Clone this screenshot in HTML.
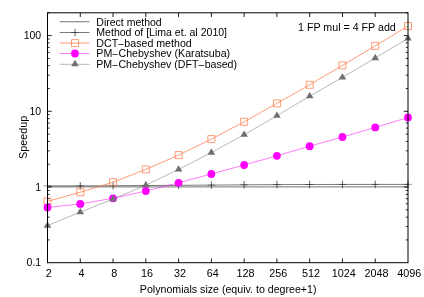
<!DOCTYPE html>
<html><head><meta charset="utf-8"><title>Speedup</title><style>html,body{margin:0;padding:0;background:#fff;overflow:hidden}</style></head><body>
<svg width="424" height="297" viewBox="0 0 424 297" style="display:block;will-change:transform;font-family:'Liberation Sans',sans-serif;font-size:10.5px" fill="#000">
<rect width="424" height="297" fill="#fff"/>
<path d="M80.27 262.7v-4.2 M80.27 12.8v4.2 M113.05 262.7v-4.2 M113.05 12.8v4.2 M145.82 262.7v-4.2 M145.82 12.8v4.2 M178.59 262.7v-4.2 M178.59 12.8v4.2 M211.36 262.7v-4.2 M211.36 12.8v4.2 M244.14 262.7v-4.2 M244.14 12.8v4.2 M276.91 262.7v-4.2 M276.91 12.8v4.2 M309.68 262.7v-4.2 M309.68 12.8v4.2 M342.45 262.7v-4.2 M342.45 12.8v4.2 M375.23 262.7v-4.2 M375.23 12.8v4.2 M47.5 187.00h4.2 M408.0 187.00h-4.2 M47.5 111.29h4.2 M408.0 111.29h-4.2 M47.5 35.59h4.2 M408.0 35.59h-4.2" stroke="#000" stroke-width="0.9" fill="none"/>
<path d="M47.5 239.91h2.2 M408.0 239.91h-2.2 M47.5 226.58h2.2 M408.0 226.58h-2.2 M47.5 217.12h2.2 M408.0 217.12h-2.2 M47.5 209.79h2.2 M408.0 209.79h-2.2 M47.5 203.79h2.2 M408.0 203.79h-2.2 M47.5 198.72h2.2 M408.0 198.72h-2.2 M47.5 194.33h2.2 M408.0 194.33h-2.2 M47.5 190.46h2.2 M408.0 190.46h-2.2 M47.5 164.21h2.2 M408.0 164.21h-2.2 M47.5 150.88h2.2 M408.0 150.88h-2.2 M47.5 141.42h2.2 M408.0 141.42h-2.2 M47.5 134.08h2.2 M408.0 134.08h-2.2 M47.5 128.09h2.2 M408.0 128.09h-2.2 M47.5 123.02h2.2 M408.0 123.02h-2.2 M47.5 118.63h2.2 M408.0 118.63h-2.2 M47.5 114.76h2.2 M408.0 114.76h-2.2 M47.5 88.50h2.2 M408.0 88.50h-2.2 M47.5 75.17h2.2 M408.0 75.17h-2.2 M47.5 65.71h2.2 M408.0 65.71h-2.2 M47.5 58.38h2.2 M408.0 58.38h-2.2 M47.5 52.38h2.2 M408.0 52.38h-2.2 M47.5 47.32h2.2 M408.0 47.32h-2.2 M47.5 42.93h2.2 M408.0 42.93h-2.2 M47.5 39.05h2.2 M408.0 39.05h-2.2 M47.5 12.80h2.2 M408.0 12.80h-2.2" stroke="#000" stroke-width="0.85" fill="none"/>
<polyline points="47.50,186.90 80.27,186.90 113.05,186.90 145.82,186.90 178.59,186.90 211.36,186.90 244.14,186.90 276.91,186.90 309.68,186.90 342.45,186.90 375.23,186.90 408.00,186.90" stroke="#000" stroke-width="0.55" fill="none"/>
<path d="M59.7 21.75H89.5" stroke="#000" stroke-width="0.55"/>
<polyline points="47.50,185.90 80.27,185.85 113.05,185.70 145.82,185.50 178.59,185.30 211.36,185.10 244.14,184.80 276.91,184.60 309.68,184.50 342.45,184.45 375.23,184.40 408.00,184.40" stroke="#000" stroke-width="0.52" fill="none"/>
<path d="M59.7 32.5H89.5" stroke="#000" stroke-width="0.52"/>
<path d="M43.70 185.90h7.6 M76.47 185.85h7.6 M109.25 185.70h7.6 M142.02 185.50h7.6 M174.79 185.30h7.6 M207.56 185.10h7.6 M240.34 184.80h7.6 M273.11 184.60h7.6 M305.88 184.50h7.6 M338.65 184.45h7.6 M371.43 184.40h7.6 M404.20 184.40h7.6 M71.20 32.50h7.6" stroke="#000" stroke-width="0.4" fill="none"/>
<path d="M47.50 182.10v7.6 M80.27 182.05v7.6 M113.05 181.90v7.6 M145.82 181.70v7.6 M178.59 181.50v7.6 M211.36 181.30v7.6 M244.14 181.00v7.6 M276.91 180.80v7.6 M309.68 180.70v7.6 M342.45 180.65v7.6 M375.23 180.60v7.6 M408.00 180.60v7.6 M75.00 28.70v7.6" stroke="#000" stroke-width="0.62" fill="none"/>
<polyline points="47.50,201.40 80.27,192.20 113.05,182.20 145.82,169.40 178.59,155.10 211.36,139.10 244.14,121.80 276.91,103.40 309.68,84.80 342.45,65.40 375.23,45.90 408.00,26.10" stroke="#ff7f50" stroke-width="0.78" fill="none"/>
<path d="M59.7 43.05H89.5" stroke="#ff7f50" stroke-width="0.78"/>
<path d="M44.00 197.90h7.0v7.0h-7.0z M76.77 188.70h7.0v7.0h-7.0z M109.55 178.70h7.0v7.0h-7.0z M142.32 165.90h7.0v7.0h-7.0z M175.09 151.60h7.0v7.0h-7.0z M207.86 135.60h7.0v7.0h-7.0z M240.64 118.30h7.0v7.0h-7.0z M273.41 99.90h7.0v7.0h-7.0z M306.18 81.30h7.0v7.0h-7.0z M338.95 61.90h7.0v7.0h-7.0z M371.73 42.40h7.0v7.0h-7.0z M404.50 22.60h7.0v7.0h-7.0z M71.50 39.55h7.0v7.0h-7.0z" stroke="#ff7f50" stroke-width="0.78" fill="none"/>
<polyline points="47.50,207.50 80.27,203.90 113.05,198.30 145.82,191.00 178.59,182.80 211.36,174.00 244.14,165.00 276.91,155.80 309.68,146.20 342.45,137.00 375.23,127.40 408.00,117.50" stroke="#ff00ff" stroke-width="0.52" fill="none"/>
<path d="M59.7 53.5H89.5" stroke="#ff00ff" stroke-width="0.52"/>
<circle cx="47.50" cy="207.50" r="3.9" fill="#ff00ff"/>
<circle cx="80.27" cy="203.90" r="3.9" fill="#ff00ff"/>
<circle cx="113.05" cy="198.30" r="3.9" fill="#ff00ff"/>
<circle cx="145.82" cy="191.00" r="3.9" fill="#ff00ff"/>
<circle cx="178.59" cy="182.80" r="3.9" fill="#ff00ff"/>
<circle cx="211.36" cy="174.00" r="3.9" fill="#ff00ff"/>
<circle cx="244.14" cy="165.00" r="3.9" fill="#ff00ff"/>
<circle cx="276.91" cy="155.80" r="3.9" fill="#ff00ff"/>
<circle cx="309.68" cy="146.20" r="3.9" fill="#ff00ff"/>
<circle cx="342.45" cy="137.00" r="3.9" fill="#ff00ff"/>
<circle cx="375.23" cy="127.40" r="3.9" fill="#ff00ff"/>
<circle cx="408.00" cy="117.50" r="3.9" fill="#ff00ff"/>
<circle cx="75.00" cy="53.50" r="3.9" fill="#ff00ff"/>
<polyline points="47.50,225.60 80.27,212.10 113.05,199.10 145.82,185.15 178.59,169.45 211.36,152.50 244.14,134.70 276.91,115.70 309.68,96.20 342.45,77.40 375.23,58.00 408.00,38.40" stroke="#707070" stroke-width="0.5" fill="none"/>
<path d="M59.7 64.3H89.5" stroke="#707070" stroke-width="0.5"/>
<path d="M47.50 221.35L51.30 227.75H43.70z M80.27 207.85L84.07 214.25H76.47z M113.05 194.85L116.85 201.25H109.25z M145.82 180.90L149.62 187.30H142.02z M178.59 165.20L182.39 171.60H174.79z M211.36 148.25L215.16 154.65H207.56z M244.14 130.45L247.94 136.85H240.34z M276.91 111.45L280.71 117.85H273.11z M309.68 91.95L313.48 98.35H305.88z M342.45 73.15L346.25 79.55H338.65z M375.23 53.75L379.03 60.15H371.43z M408.00 34.15L411.80 40.55H404.20z M75.00 59.80L78.80 66.20H71.20z" fill="#707070"/>
<rect x="47.5" y="12.8" width="360.5" height="249.89999999999998" fill="none" stroke="#000" stroke-width="1"/>
<defs><mask id="tm"><rect width="424" height="297" fill="#fff"/></mask></defs><g mask="url(#tm)">
<text x="96.3" y="26" font-size="10.5">Direct method</text>
<text x="96.3" y="36" font-size="10.55">Method of [Lima et. al 2010]</text>
<text x="96.3" y="47" font-size="10.64">DCT<tspan dx="-0.5" dy="1">−</tspan><tspan dx="0.5" dy="-1">based method</tspan></text>
<text x="96.3" y="57" font-size="10.64">PM<tspan dx="-0.5" dy="1">−</tspan><tspan dx="0.5" dy="-1">Chebyshev (Karatsuba)</tspan></text>
<text x="96.3" y="68" font-size="10.6">PM<tspan dx="-0.5" dy="1">−</tspan><tspan dx="0.5" dy="-1">Chebyshev (DFT</tspan><tspan dx="-0.5" dy="1">−</tspan><tspan dx="0.5" dy="-1">based)</tspan></text>
<text x="395.8" y="31" text-anchor="end" font-size="10.68">1 FP mul = 4 FP add</text>
<text x="48.80" y="277" text-anchor="middle" font-size="10.8">2</text>
<text x="81.57" y="277" text-anchor="middle" font-size="10.8">4</text>
<text x="114.35" y="277" text-anchor="middle" font-size="10.8">8</text>
<text x="147.12" y="277" text-anchor="middle" font-size="10.8">16</text>
<text x="179.89" y="277" text-anchor="middle" font-size="10.8">32</text>
<text x="212.66" y="277" text-anchor="middle" font-size="10.8">64</text>
<text x="245.44" y="277" text-anchor="middle" font-size="10.8">128</text>
<text x="278.21" y="277" text-anchor="middle" font-size="10.8">256</text>
<text x="310.98" y="277" text-anchor="middle" font-size="10.8">512</text>
<text x="343.75" y="277" text-anchor="middle" font-size="10.8">1024</text>
<text x="376.53" y="277" text-anchor="middle" font-size="10.8">2048</text>
<text x="409.30" y="277" text-anchor="middle" font-size="10.8">4096</text>
<text x="41.2" y="266" text-anchor="end">0.1</text>
<text x="41.2" y="191" text-anchor="end">1</text>
<text x="41.2" y="115" text-anchor="end">10</text>
<text x="41.2" y="39" text-anchor="end">100</text>
<text x="228.2" y="293" text-anchor="middle" font-size="10.63">Polynomials size (equiv. to degree+1)</text>
<text transform="translate(27.2,137.3) rotate(-90)" text-anchor="middle" font-size="10.8">Speedup</text>
</g>
</svg>
</body></html>
